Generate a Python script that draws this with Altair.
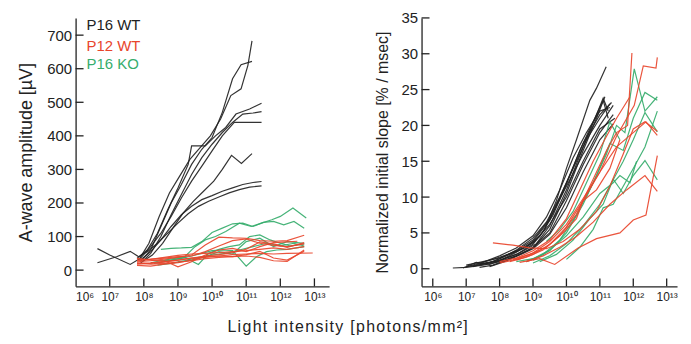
import altair as alt
import pandas as pd

# ---------------- values ----------------
# x values are log10(light intensity, photons/mm^2)
tick_exps = [6, 7, 8, 9, 10, 11, 12, 13]
amp_ticks = [0, 100, 200, 300, 400, 500, 600, 700]
slope_ticks = [0, 5, 10, 15, 20, 25, 30, 35]
groups = ["P16 WT", "P12 WT", "P16 KO"]
colors = ["#222222", "#e8452c", "#36ad6c"]

# Left panel: A-wave amplitude (uV)
amp_p16wt = [
    [(7.85, 30), (8.15, 80), (8.45, 160), (8.75, 230), (9.05, 280), (9.35, 330), (9.65, 365), (9.95, 400), (10.25, 450), (10.55, 520), (10.85, 540), (11.05, 610), (11.17, 683)],
    [(7.9, 25), (8.2, 60), (8.5, 130), (8.8, 200), (9.1, 255), (9.4, 315), (9.7, 360), (10.0, 395), (10.3, 470), (10.6, 570), (10.85, 612), (11.17, 622)],
    [(7.8, 35), (8.1, 60), (8.4, 110), (8.7, 180), (9.0, 245), (9.3, 315), (9.4, 370), (9.8, 370), (10.1, 400), (10.4, 425), (10.7, 465), (11.1, 480), (11.45, 497)],
    [(7.9, 20), (8.2, 50), (8.5, 100), (8.8, 165), (9.1, 225), (9.4, 285), (9.7, 335), (10.0, 375), (10.3, 410), (10.6, 440), (10.9, 465), (11.2, 468), (11.45, 472)],
    [(6.64, 64), (7.0, 45), (7.6, 17), (7.9, 35), (8.2, 70), (8.5, 110), (8.8, 160), (9.1, 215), (9.4, 265), (9.7, 310), (10.0, 355), (10.3, 400), (10.65, 440), (11.0, 440), (11.45, 440)],
    [(7.95, 25), (8.25, 45), (8.55, 80), (8.85, 125), (9.15, 170), (9.45, 205), (9.75, 235), (10.05, 265), (10.3, 300), (10.57, 342), (10.86, 318), (11.17, 347)],
    [(7.9, 30), (8.2, 55), (8.5, 90), (8.8, 130), (9.1, 165), (9.4, 190), (9.7, 210), (10.0, 222), (10.3, 235), (10.6, 245), (10.9, 255), (11.2, 261), (11.45, 264)],
    [(6.64, 22), (7.2, 40), (7.6, 56), (7.85, 40), (8.1, 55), (8.4, 80), (8.7, 110), (9.0, 140), (9.3, 168), (9.6, 190), (9.9, 205), (10.2, 218), (10.5, 230), (10.8, 240), (11.1, 247), (11.45, 251)],
]
amp_p12wt = [
    [(7.8, 25), (8.2, 28), (8.6, 33), (9.0, 38), (9.4, 45), (9.8, 75), (10.2, 98), (10.6, 96), (11.0, 95), (11.4, 88), (11.8, 86), (12.2, 88), (12.7, 104)],
    [(7.8, 30), (8.2, 33), (8.6, 36), (9.0, 40), (9.4, 42), (9.8, 55), (10.2, 72), (10.6, 88), (11.0, 93), (11.4, 80), (11.8, 74), (12.2, 70), (12.7, 78)],
    [(7.8, 20), (8.2, 22), (8.6, 26), (9.0, 30), (9.4, 36), (9.8, 42), (10.2, 46), (10.6, 52), (11.0, 62), (11.4, 84), (11.8, 78), (12.2, 68), (12.7, 82)],
    [(7.8, 18), (8.2, 20), (8.6, 24), (9.0, 30), (9.4, 36), (9.8, 38), (10.2, 42), (10.6, 46), (11.0, 48), (11.4, 50), (11.8, 48), (12.2, 50), (12.95, 51)],
    [(7.8, 14), (8.2, 12), (8.6, 18), (9.0, 22), (9.4, 30), (9.8, 40), (10.2, 42), (10.6, 40), (11.0, 46), (11.4, 56), (11.8, 36), (12.2, 30), (12.7, 56)],
    [(7.8, 28), (8.2, 32), (8.6, 38), (9.0, 44), (9.4, 48), (9.8, 50), (10.2, 52), (10.6, 55), (11.0, 58), (11.4, 62), (11.8, 66), (12.2, 62), (12.7, 70)],
    [(7.8, 22), (8.2, 18), (8.6, 20), (9.0, 24), (9.4, 28), (9.8, 34), (10.2, 38), (10.6, 40), (11.0, 42), (11.4, 38), (11.8, 28), (12.2, 26), (12.7, 60)],
    [(7.8, 35), (8.2, 30), (8.6, 28), (9.0, 10), (9.4, 25), (9.8, 45), (10.2, 60), (10.6, 65), (11.0, 55), (11.4, 70), (11.8, 82), (12.2, 84), (12.5, 86)],
]
amp_p16ko = [
    [(8.5, 62), (8.8, 65), (9.1, 66), (9.4, 68), (9.7, 85), (10.0, 112), (10.3, 125), (10.6, 138), (10.9, 140), (11.2, 130), (11.5, 142), (11.8, 145), (12.1, 135), (12.4, 145), (12.7, 125)],
    [(8.6, 30), (8.9, 35), (9.2, 40), (9.5, 70), (9.8, 90), (10.1, 100), (10.4, 115), (10.8, 140), (11.15, 130), (11.45, 140), (11.75, 150), (12.0, 160), (12.37, 185), (12.76, 155)],
    [(8.3, 20), (8.6, 25), (8.9, 32), (9.2, 38), (9.6, 17), (9.9, 50), (10.2, 62), (10.5, 70), (10.8, 75), (11.1, 100), (11.4, 105), (11.7, 90), (12.0, 80), (12.3, 72), (12.7, 78)],
    [(8.2, 22), (8.5, 28), (8.8, 30), (9.1, 35), (9.4, 42), (9.7, 50), (10.0, 58), (10.3, 60), (10.6, 58), (11.0, 12), (11.3, 40), (11.6, 55), (11.9, 60), (12.2, 62), (12.7, 70)],
    [(8.4, 15), (8.8, 20), (9.2, 28), (9.6, 38), (10.0, 45), (10.4, 50), (10.8, 60), (11.2, 70), (11.6, 80), (12.0, 72), (12.4, 80), (12.7, 72)],
    [(9.0, 25), (9.4, 30), (9.8, 40), (10.2, 55), (10.6, 48), (11.0, 85), (11.4, 95), (11.8, 70), (12.2, 85), (12.7, 80)],
]

# Right panel: normalized initial slope (% / msec)
slope_p16wt = [
    [(7.0, 0.3), (7.5, 0.6), (8.0, 1.2), (8.5, 2.0), (9.0, 3.4), (9.35, 5.5), (9.7, 9.5), (10.0, 14.0), (10.3, 18.0), (10.7, 23.5), (10.9, 25.2), (11.19, 28.2)],
    [(6.6, 0.1), (7.0, 0.2), (7.5, 0.5), (8.0, 1.0), (8.5, 1.8), (9.0, 2.9), (9.5, 5.5), (10.0, 10.5), (10.5, 16.5), (10.9, 21.0), (11.15, 24.0)],
    [(6.9, 0.1), (7.3, 0.9), (7.7, 0.6), (8.1, 1.3), (8.6, 2.2), (9.1, 3.5), (9.5, 6.0), (10.0, 11.0), (10.5, 17.0), (10.9, 21.5), (11.1, 23.8), (11.25, 22.0)],
    [(7.2, 0.3), (7.6, 0.8), (8.0, 1.1), (8.5, 2.3), (9.0, 3.8), (9.5, 6.8), (10.0, 12.0), (10.5, 17.5), (11.0, 21.5), (11.35, 23.2)],
    [(7.0, 0.5), (7.5, 1.0), (8.0, 1.5), (8.5, 2.5), (9.0, 4.0), (9.5, 7.0), (10.0, 11.5), (10.5, 16.0), (11.0, 20.0), (11.4, 22.8)],
    [(7.4, 0.2), (7.8, 0.5), (8.2, 1.2), (8.6, 2.0), (9.0, 3.0), (9.5, 5.0), (10.0, 9.5), (10.5, 14.5), (11.0, 19.0), (11.4, 21.5)],
    [(7.6, 0.7), (8.0, 1.4), (8.5, 2.6), (9.0, 4.3), (9.4, 6.5), (9.8, 10.0), (10.2, 14.0), (10.6, 18.0), (11.0, 21.0), (11.3, 23.0)],
    [(7.1, 0.4), (7.5, 0.9), (8.0, 1.6), (8.5, 2.4), (9.0, 3.6), (9.5, 6.2), (10.0, 10.0), (10.5, 15.0), (11.0, 19.5), (11.45, 21.0)],
    [(7.7, 0.3), (8.1, 0.9), (8.5, 1.7), (9.0, 2.8), (9.5, 4.8), (10.0, 8.5), (10.5, 13.5), (11.0, 18.0), (11.4, 20.2)],
    [(7.3, 0.6), (7.8, 1.0), (8.3, 2.0), (8.8, 3.0), (9.2, 4.5), (9.6, 7.5), (10.0, 11.8), (10.4, 16.5), (10.8, 20.5), (11.1, 23.5), (11.25, 21.0)],
    [(7.5, 0.9), (8.0, 1.8), (8.5, 2.9), (9.0, 4.6), (9.4, 7.2), (9.8, 11.0), (10.2, 15.5), (10.6, 19.0), (11.0, 22.0), (11.3, 22.5)],
]
slope_p12wt = [
    [(7.8, 3.6), (8.4, 3.3), (8.9, 2.9), (9.4, 2.8), (9.9, 3.8), (10.4, 5.5), (10.9, 8.0), (11.3, 11.5), (11.7, 16.0), (12.0, 19.5), (12.35, 20.5), (12.72, 19.2)],
    [(8.3, 1.0), (8.8, 1.6), (9.3, 2.6), (9.8, 4.6), (10.3, 7.6), (10.8, 12.5), (11.2, 16.5), (11.5, 19.0), (11.83, 20.0), (11.96, 30.1)],
    [(8.5, 1.2), (9.0, 2.0), (9.5, 3.4), (10.0, 5.8), (10.5, 9.5), (11.0, 13.5), (11.5, 18.5), (12.03, 22.8), (12.3, 28.3), (12.68, 28.0), (12.72, 29.5)],
    [(8.0, 0.8), (8.5, 1.3), (9.0, 2.2), (9.5, 3.8), (10.0, 6.2), (10.5, 9.8), (11.0, 13.5), (11.5, 17.0), (12.0, 19.0), (12.38, 20.5), (12.72, 18.6)],
    [(8.6, 0.9), (9.2, 1.4), (9.65, 0.6), (10.35, 2.9), (10.9, 4.2), (11.6, 5.0), (12.0, 6.8), (12.38, 7.5), (12.72, 15.8)],
    [(8.8, 1.0), (9.3, 1.8), (9.8, 3.0), (10.3, 4.5), (10.8, 6.5), (11.3, 9.0), (11.8, 11.0), (12.35, 13.0), (12.72, 10.8)],
    [(8.0, 1.0), (8.5, 1.5), (9.0, 2.5), (9.5, 4.0), (10.0, 7.0), (10.4, 11.0), (10.8, 15.0), (11.2, 18.5), (11.5, 21.0), (11.9, 24.0)],
    [(8.4, 1.3), (8.9, 2.0), (9.4, 3.0), (9.9, 5.0), (10.3, 7.0), (10.5, 9.5), (10.9, 11.0), (11.3, 14.0), (11.6, 18.0)],
]
slope_p16ko = [
    [(8.8, 1.0), (9.3, 2.0), (9.8, 4.0), (10.3, 7.5), (10.8, 12.0), (11.2, 16.0), (11.5, 20.0), (11.75, 19.0), (12.03, 27.9), (12.35, 22.0), (12.72, 24.0)],
    [(9.0, 1.2), (9.5, 2.5), (10.0, 5.0), (10.5, 9.0), (10.9, 13.0), (11.3, 17.5), (11.7, 16.5), (12.0, 21.0), (12.35, 24.6), (12.72, 23.5)],
    [(9.0, 0.8), (9.5, 1.8), (10.0, 3.5), (10.5, 6.0), (11.0, 9.0), (11.35, 12.0), (11.7, 15.0), (12.0, 18.0), (12.35, 21.8), (12.72, 19.1)],
    [(9.2, 1.0), (9.7, 2.0), (10.2, 4.0), (10.7, 7.0), (11.1, 9.0), (11.4, 12.5), (11.7, 10.5), (12.0, 13.0), (12.35, 15.1), (12.72, 12.4)],
    [(10.0, 1.3), (10.4, 3.0), (10.8, 5.5), (11.1, 8.5), (11.4, 9.0), (11.7, 11.5), (12.0, 14.0), (12.35, 17.0), (12.72, 22.0)],
    [(8.5, 1.0), (9.0, 1.4), (9.5, 2.6), (10.0, 4.6), (10.5, 7.2), (11.0, 10.5), (11.4, 12.0), (11.6, 13.0), (11.9, 12.0), (12.1, 15.0)],
    [(9.4, 3.8), (9.8, 5.5), (10.2, 8.0), (10.6, 12.0), (11.0, 16.0), (11.3, 20.5), (11.6, 18.0)],
]

x_title = "Light intensity [photons/mm²]"
amp_title = "A-wave amplitude [µV]"
slope_title = "Normalized initial slope [% / msec]"

# ---------------- build chart ----------------
FONT = "Liberation Sans"
INK = "#222222"
SUP = {6: "⁶", 7: "⁷", 8: "⁸", 9: "⁹", 10: "¹⁰", 11: "¹¹", 12: "¹²", 13: "¹³"}
label_expr = "".join(f"datum.value == {k} ? '10{SUP[k]}' : " for k in tick_exps) + "''"


def frame(lines, name):
    rows = []
    for i, line in enumerate(lines):
        for k, (e, v) in enumerate(line):
            rows.append({"group": name, "line": f"{name}-{i}", "order": k, "e": e, "v": v})
    return pd.DataFrame(rows)


def panel(series, x_dom, y_dom, y_ticks, x_ticks, y_title, y_title_size, width, height, legend):
    X = alt.X("e:Q", scale=alt.Scale(domain=x_dom, nice=False, zero=False),
              axis=alt.Axis(values=tick_exps, labelExpr=label_expr, title=None, ticks=False,
                            labelFontSize=12, labelPadding=5, grid=False))
    Y = alt.Y("v:Q", scale=alt.Scale(domain=y_dom, nice=False, zero=False),
              axis=alt.Axis(values=y_ticks, title=y_title, titleFontSize=y_title_size, ticks=False,
                            labelFontSize=15, labelPadding=4, titlePadding=11, grid=False))
    layers = []
    for name, col, lines in series:
        layers.append(
            alt.Chart(frame(lines, name)).mark_line(color=col, strokeWidth=1.2, opacity=0.92)
            .encode(x=X, y=Y, detail="line:N", order="order:Q")
        )
    layers.append(alt.Chart(pd.DataFrame({"e": x_ticks})).mark_rule(color=INK, strokeWidth=1.3)
                  .encode(x=X, y=alt.value(height - 8), y2=alt.value(height)))
    layers.append(alt.Chart(pd.DataFrame({"v": y_ticks})).mark_rule(color=INK, strokeWidth=1.3)
                  .encode(y=Y, x=alt.value(0), x2=alt.value(8)))
    if legend:
        for (name, col), yy in zip(zip(groups, colors), [7, 28, 46]):
            layers.append(alt.Chart(pd.DataFrame({"t": [name]})).mark_text(
                align="left", baseline="middle", fontSize=15, font=FONT, color=col)
                .encode(text="t:N", x=alt.value(11), y=alt.value(yy)))
    return alt.layer(*layers).properties(width=width, height=height)


left = panel(
    [("P16 WT", colors[0], amp_p16wt), ("P16 KO", colors[2], amp_p16ko), ("P12 WT", colors[1], amp_p12wt)],
    [6, 13.43], [-48.3, 751.3], amp_ticks, tick_exps[1:], amp_title, 18, 255, 270, True)
right = panel(
    [("P16 WT", colors[0], slope_p16wt), ("P16 KO", colors[2], slope_p16ko), ("P12 WT", colors[1], slope_p12wt)],
    [5.664, 13.31], [-2.455, 35], slope_ticks, tick_exps, slope_title, 16, 257, 270, False)

spaced = "\u200a".join(list(x_title))
chart = alt.hconcat(left, right, spacing=93, bounds="flush").properties(
    title=alt.TitleParams(spaced, orient="bottom", anchor="middle", fontSize=16, font=FONT,
                          fontWeight="normal", color=INK, offset=17),
    padding={"left": 9, "top": 2, "right": 5, "bottom": 5},
).configure_view(stroke=None).configure_axis(
    domainColor=INK, domainWidth=1.3, labelColor=INK, titleColor=INK,
    labelFont=FONT, titleFont=FONT, titleFontWeight="normal",
)

chart.save("out.html", embed_options={"renderer": "svg", "actions": False})
